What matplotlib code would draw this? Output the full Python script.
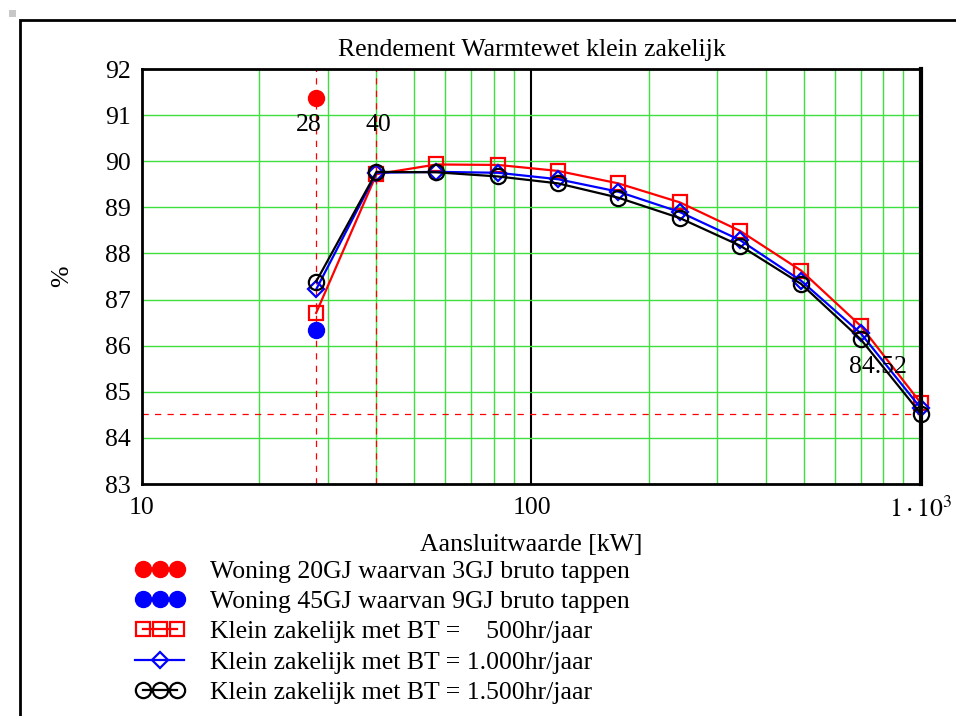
import matplotlib.pyplot as plt
from matplotlib.legend_handler import HandlerLine2D
from matplotlib.patches import Rectangle
from matplotlib.ticker import FixedLocator, NullFormatter

plt.rcParams['font.family'] = ['Liberation Serif', 'DejaVu Serif']
plt.rcParams['mathtext.fontset'] = 'stix'

# data
kw = [28, 40, 57, 82, 117, 167, 240, 343, 492, 700, 1000]
bt_500 = [86.71, 89.72, 89.93, 89.92, 89.79, 89.52, 89.11, 88.49, 87.63, 86.43, 84.75]
bt_1000 = [87.22, 89.75, 89.77, 89.75, 89.61, 89.34, 88.90, 88.29, 87.41, 86.27, 84.64]
bt_1500 = [87.39, 89.77, 89.76, 89.67, 89.52, 89.21, 88.77, 88.17, 87.34, 86.14, 84.52]
woning_kw = [28]
woning_20gj = [91.38]
woning_45gj = [86.35]
marker_x = [28, 40]
marker_y = 84.52

labels = ['Woning 20GJ waarvan 3GJ bruto tappen',
          'Woning 45GJ waarvan 9GJ bruto tappen',
          'Klein zakelijk met BT =    500hr/jaar',
          'Klein zakelijk met BT = 1.000hr/jaar',
          'Klein zakelijk met BT = 1.500hr/jaar']

FS = 18.5

fig = plt.figure(figsize=(9.56, 7.16), dpi=100)
ax = fig.add_axes([0.1485, 0.324, 0.8149, 0.5796])

# outer frame and little grey square
fig.patches.append(Rectangle((20 / 956, -0.1), 1.2, 1 - 20 / 716 + 0.1,
                             transform=fig.transFigure, fill=False,
                             edgecolor='black', linewidth=2))
fig.patches.append(Rectangle((9 / 956, 1 - 17 / 716), 7 / 956, 7 / 716,
                             transform=fig.transFigure, facecolor='#c8c8c8',
                             edgecolor='none'))

ax.set_xscale('log')
ax.set_xlim(10, 1000)
ax.set_ylim(83, 92)

# grid
green = '#3ee03e'
for x in list(range(20, 100, 10)) + list(range(200, 1000, 100)):
    ax.axvline(x, color=green, lw=1, zorder=0)
ax.axvline(100, color='black', lw=1.5, zorder=0)
for y in range(84, 92):
    ax.axhline(y, color=green, lw=1, zorder=0)

# marker lines
for x in marker_x:
    ax.axvline(x, color='red', lw=0.9, dashes=(5, 5), zorder=1)
ax.axhline(marker_y, color='red', lw=0.9, dashes=(5, 5), zorder=1)

h20, = ax.plot(woning_kw, woning_20gj, 'o', color='red', ms=11.5, ls='none')
h45, = ax.plot(woning_kw, woning_45gj, 'o', color='blue', ms=11.5, ls='none')
h500, = ax.plot(kw, bt_500, color='red', lw=1.6, marker='s', ms=10,
                mfc='none', mew=1.6)
h1000, = ax.plot(kw, bt_1000, color='blue', lw=1.6, marker='D', ms=8,
                 mfc='none', mew=1.6)
h1500, = ax.plot(kw, bt_1500, color='black', lw=1.6, marker='o', ms=11,
                 mfc='none', mew=1.6)
for artist in (h500, h1000, h1500, h20, h45):
    artist.set_clip_on(False)

ax.text(26.8, 90.79, '28', ha='center', va='center', fontsize=FS)
ax.text(40.4, 90.79, '40', ha='center', va='center', fontsize=FS)
ax.text(775, 85.54, '84.52', ha='center', va='center', fontsize=FS)

ax.xaxis.set_major_locator(FixedLocator([10, 100, 1000]))
ax.xaxis.set_minor_formatter(NullFormatter())
ax.set_xticks([10, 100, 1000])
ax.set_xticklabels(['10', '100', r'$1\cdot10^3$'])
ax.set_yticks(range(83, 93))
ax.tick_params(axis='both', which='both', length=0, labelsize=FS)
ax.tick_params(axis='x', pad=9)
ax.tick_params(axis='y', pad=8)
for s in ax.spines.values():
    s.set_linewidth(2)
ax.spines['right'].set_linewidth(3)

ax.set_title('Rendement Warmtewet klein zakelijk', fontsize=FS, pad=9.5)
ax.set_xlabel('Aansluitwaarde [kW]', fontsize=FS, labelpad=8.5)
ax.set_ylabel('%', fontsize=FS, labelpad=23)

fig.legend([h20, h45, h500, h1000, h1500], labels, loc='upper left',
           bbox_to_anchor=(112 / 956, 1 - 537 / 716), frameon=False,
           fontsize=FS, numpoints=3, handlelength=1.92, handletextpad=1.0,
           labelspacing=0.28,
           handler_map={h1000: HandlerLine2D(numpoints=1)})

fig.savefig('out.png', dpi=100)
